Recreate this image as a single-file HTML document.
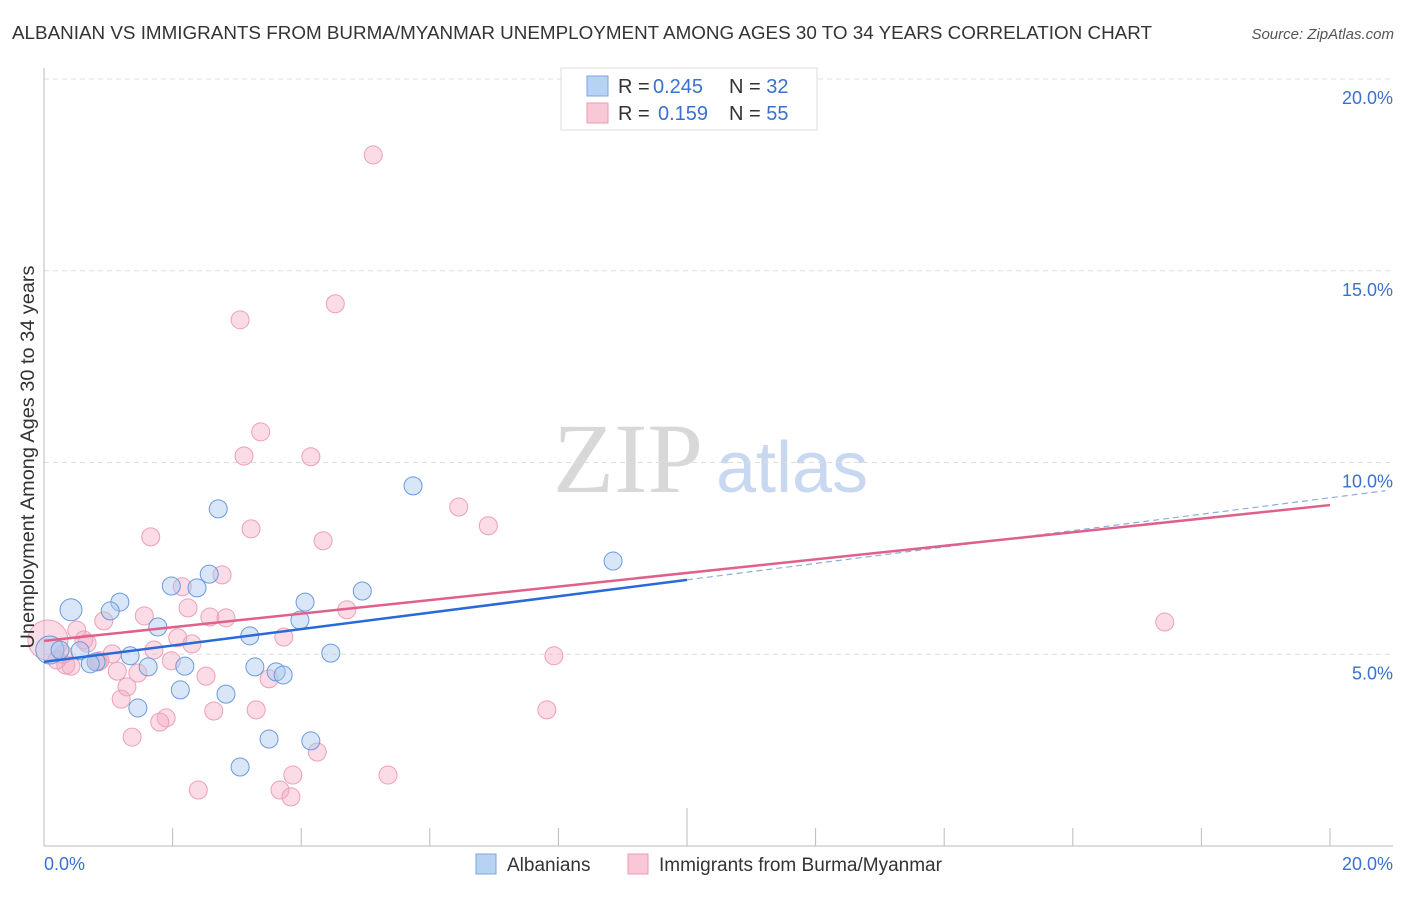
<!DOCTYPE html>
<html><head><meta charset="utf-8"><style>
body{margin:0;background:#fff;font-family:"Liberation Sans",sans-serif;}
</style></head><body>
<svg id="chart" width="1406" height="892" xmlns="http://www.w3.org/2000/svg" style="font-family:'Liberation Sans',sans-serif">
<text x="12" y="39" font-size="18" fill="#333" textLength="1140" lengthAdjust="spacingAndGlyphs">ALBANIAN VS IMMIGRANTS FROM BURMA/MYANMAR UNEMPLOYMENT AMONG AGES 30 TO 34 YEARS CORRELATION CHART</text>
<text x="1394" y="39" font-size="15" fill="#555" font-style="italic" text-anchor="end">Source: ZipAtlas.com</text>
<g>
<text x="553" y="492" font-size="100" font-family="'Liberation Serif',serif" fill="#d8d8d8">ZIP</text>
<text x="716" y="492" font-size="72" fill="#c8d8f0">atlas</text>
</g>
<g id="grid"></g>
<g id="axes"></g>
<g id="points"></g>
<g id="trends"></g>
<text transform="translate(34,457) rotate(-90)" font-size="19" fill="#333" textLength="383" lengthAdjust="spacingAndGlyphs" text-anchor="middle">Unemployment Among Ages 30 to 34 years</text>
<text x="44" y="870" font-size="18" fill="#3a70d0">0.0%</text>
<text x="1393" y="870" font-size="18" fill="#3a70d0" text-anchor="end">20.0%</text>
<g>
<rect x="561" y="68" width="256" height="62" fill="#fff" stroke="#ddd"/>
<rect x="587" y="76" width="21" height="20" fill="#b8d2f4" stroke="#7aa6e0"/>
<rect x="587" y="103" width="21" height="20" fill="#f9c8d6" stroke="#ec9ab2"/>
<text x="618" y="93" font-size="20" fill="#333">R = <tspan fill="#3a70d0" x="653">0.245</tspan><tspan x="729">N = </tspan><tspan fill="#3a70d0">32</tspan></text>
<text x="618" y="120" font-size="20" fill="#333">R = <tspan fill="#3a70d0" x="658">0.159</tspan><tspan x="729">N = </tspan><tspan fill="#3a70d0">55</tspan></text>
</g>
<g>
<rect x="476" y="854" width="20" height="20" fill="#b8d2f4" stroke="#7aa6e0"/>
<text x="507" y="871" font-size="19" fill="#333">Albanians</text>
<rect x="628" y="854" width="20" height="20" fill="#f9c8d6" stroke="#ec9ab2"/>
<text x="659" y="871" font-size="19" fill="#333">Immigrants from Burma/Myanmar</text>
</g>
</svg>
<script>
const yTicks=[5,10,15,20];
const yTickLabels=["5.0%","10.0%","15.0%","20.0%"];
const xTicks=[0,2,4,6,8,10,12,14,16,18,20];
const blueX=[0.42,1.18,1.03,1.98,2.38,2.57,2.71,1.77,1.34,1.62,2.19,2.12,1.46,2.83,3.05,3.20,3.28,3.61,3.72,3.50,3.98,4.06,4.15,4.46,4.95,5.74,8.85,0.56,0.81,0.72,0.09,0.25];
const blueY=[6.16,6.36,6.13,6.78,6.73,7.09,8.79,5.71,4.96,4.67,4.69,4.07,3.60,3.96,2.06,5.48,4.67,4.54,4.46,2.79,5.89,6.36,2.74,5.03,6.65,9.39,7.43,5.09,4.80,4.75,5.11,5.11];
const blueR=[11,9,9,9,9,9,9,9,9,9,9,9,9,9,9,9,9,9,9,9,9,9,9,9,9,9,9,9,9,9,14,9];
const pinkX=[5.12,4.53,3.05,3.37,3.11,4.15,3.22,1.66,4.34,6.45,6.91,2.77,2.15,1.56,2.24,2.58,2.83,0.93,0.51,0.67,2.08,2.30,1.71,1.06,3.73,4.71,1.98,1.14,1.46,2.52,3.50,1.29,1.20,2.64,3.30,1.90,1.80,1.37,3.87,4.25,5.35,2.40,3.67,3.84,7.82,7.93,17.43,0.06,0.34,0.42,0.20,0.84,0.62,0.87,0.30];
const pinkY=[18.02,14.14,13.72,10.80,10.17,10.15,8.27,8.06,7.96,8.84,8.35,7.07,6.76,6.00,6.21,5.97,5.95,5.87,5.63,5.29,5.43,5.27,5.11,5.01,5.45,6.16,4.83,4.56,4.51,4.43,4.36,4.15,3.83,3.52,3.55,3.34,3.23,2.84,1.85,2.45,1.85,1.46,1.46,1.28,3.55,4.96,5.84,5.37,4.72,4.69,4.85,4.80,5.37,4.83,5.0];
const blueTrend=[4.80,0.214];  // intercept, slope
const pinkTrend=[5.35,0.177];
const blueSolidEnd=10, blueDashEnd=20.86, pinkEnd=20;
const X0=44,X1=1330,Y0=846,Y20=79;
const sx=v=>X0+(X1-X0)*v/20;
const sy=v=>Y0-(Y0-Y20)*v/20;
const NS="http://www.w3.org/2000/svg";
function mk(tag,attrs,parent){const e=document.createElementNS(NS,tag);for(const k in attrs)e.setAttribute(k,attrs[k]);document.getElementById(parent).appendChild(e);return e;}
yTicks.forEach((t,i)=>{
 const l=mk('line',{x1:44,x2:1393,y1:sy(t),y2:sy(t),stroke:'#ddd','stroke-dasharray':'5,4'},'grid');
 
 
 const tx=mk('text',{x:1393,y:sy(t)+25,'font-size':18,fill:'#3a70d0','text-anchor':'end'},'grid');
 tx.textContent=yTickLabels[i];
 
 
});
const ax=mk('line',{x1:44,x2:1393,y1:846,y2:846,stroke:'#bbb'},'axes');


const ay=mk('line',{x1:44,x2:44,y1:68,y2:846,stroke:'#bbb'},'axes');


xTicks.forEach(t=>{
 const l=mk('line',{x1:sx(t),x2:sx(t),y1:t===10?808:828,y2:846,stroke:'#bbb'},'axes');
 
 
});
pinkX.forEach((v,i)=>{
 const c=mk('circle',{cx:sx(v),cy:sy(pinkY[i]),r:i===47?20:9,fill:'#f4a8c0','fill-opacity':0.4,stroke:'#eca0b8','stroke-width':1},'points');
 
 
});
blueX.forEach((v,i)=>{
 const c=mk('circle',{cx:sx(v),cy:sy(blueY[i]),r:blueR[i],fill:'#a8c8f0','fill-opacity':0.45,stroke:'#6a9ade','stroke-width':1},'points');
 
 
});
const f=(tr,x)=>tr[0]+tr[1]*x;
const bd=mk('line',{x1:sx(blueSolidEnd),y1:sy(f(blueTrend,blueSolidEnd)),x2:sx(blueDashEnd),y2:sy(f(blueTrend,blueDashEnd)),stroke:'#8aaee0','stroke-width':1.2,'stroke-dasharray':'6,4'},'trends');


const pl=mk('line',{x1:sx(0),y1:sy(f(pinkTrend,0)),x2:sx(pinkEnd),y2:sy(f(pinkTrend,pinkEnd)),stroke:'#e0608c','stroke-width':2.5},'trends');


const bl=mk('line',{x1:sx(0),y1:sy(f(blueTrend,0)),x2:sx(blueSolidEnd),y2:sy(f(blueTrend,blueSolidEnd)),stroke:'#2a6ad8','stroke-width':2.5},'trends');


</script>
</body></html>
